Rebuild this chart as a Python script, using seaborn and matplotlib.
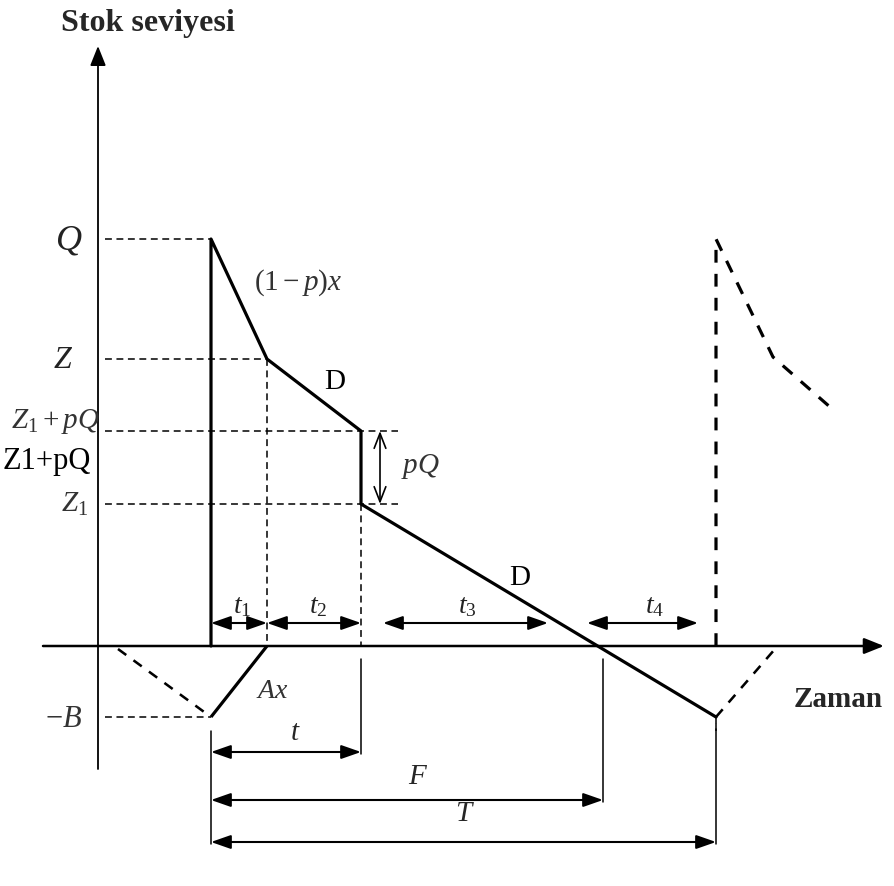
import matplotlib
matplotlib.use("Agg")
import matplotlib.pyplot as plt
import seaborn as sns
import pandas as pd

sns.set_theme(style="white")
plt.rcParams["font.family"] = ["Liberation Serif", "DejaVu Serif"]
plt.rcParams["mathtext.fontset"] = "custom"
plt.rcParams["mathtext.rm"] = "Liberation Serif"
plt.rcParams["mathtext.it"] = "Liberation Serif:italic"

# ---- data (time / stock level units) ----
t_points = [113, 169, 263, 505, 618]          # start, end t1, end t2 (=t), F, T
lev_Q, lev_Z, lev_Z1pQ, lev_Z1, lev_B = 407, 287, 215, 142, -71
profile_x = [113, 113, 169, 263, 263, 618]
profile_y = [0, lev_Q, lev_Z, lev_Z1pQ, lev_Z1, lev_B]
backorder_x = [113, 169]
backorder_y = [lev_B, 0]
next_x = [618, 618, 675, 732]
next_y = [0, lev_Q, 289, 239]
prev_x = [20, 113]
prev_y = [-3, lev_B]
next_back_x = [618, 677]
next_back_y = [lev_B, -3]
level_labels = ["$Q$", "$Z$", "$Z_{1}+pQ$", "$Z_{1}$", "$-B$"]
phase_labels = ["$t_{1}$", "$t_{2}$", "$t_{3}$", "$t_{4}$"]
phase_spans = [(113, 169), (169, 263), (285, 450), (489, 600)]

fig = plt.figure(figsize=(8.94, 8.87), dpi=100)
ax = fig.add_axes([0, 0, 1, 1])
ax.set_xlim(-98, 796)
ax.set_ylim(-240, 647)
ax.axis("off")

thick = 2.3
thin = 1.1
dash_thin = (0, (4.5, 3))
dash_thick = (0, (4, 3.5))

# axes with arrows
ax.annotate("", xy=(0, 600), xytext=(0, -123),
            arrowprops=dict(arrowstyle="-|>,head_length=1.0,head_width=0.4", lw=1.3, color="black", shrinkA=0, shrinkB=0))
ax.annotate("", xy=(786, 0), xytext=(-55, 0),
            arrowprops=dict(arrowstyle="-|>,head_length=1.0,head_width=0.4", lw=1.8, color="black", shrinkA=0, shrinkB=0))

# main inventory profile
df = pd.DataFrame({"x": profile_x, "y": profile_y})
sns.lineplot(data=df, x="x", y="y", sort=False, color="black", lw=thick, ax=ax, estimator=None)
ax.plot(backorder_x, backorder_y, color="black", lw=thick, solid_capstyle="butt")
ax.plot(next_x, next_y, color="black", lw=thick, ls=dash_thick)
ax.plot(prev_x, prev_y, color="black", lw=thick * 0.8, ls=dash_thick)
ax.plot(next_back_x, next_back_y, color="black", lw=thick * 0.8, ls=dash_thick)

# horizontal guide lines
ax.plot([7, 113], [lev_Q, lev_Q], color="black", lw=thin, ls=dash_thin)
ax.plot([7, 169], [lev_Z, lev_Z], color="black", lw=thin, ls=dash_thin)
ax.plot([7, 300], [lev_Z1pQ, lev_Z1pQ], color="black", lw=thin, ls=dash_thin)
ax.plot([7, 300], [lev_Z1, lev_Z1], color="black", lw=thin, ls=dash_thin)
ax.plot([7, 113], [lev_B, lev_B], color="black", lw=thin, ls=dash_thin)

# vertical guide lines
ax.plot([169, 169], [lev_Z, 0], color="black", lw=thin, ls=dash_thin)
ax.plot([263, 263], [lev_Z1, 0], color="black", lw=thin, ls=dash_thin)
ax.plot([263, 263], [-13, -108], color="black", lw=thin)
ax.plot([113, 113], [-85, -198], color="black", lw=thin)
ax.plot([505, 505], [-13, -156], color="black", lw=thin)
ax.plot([618, 618], [-78, -198], color="black", lw=thin)
ax.plot([618, 618], [-71, -85], color="black", lw=thin, ls=dash_thin)

def dim(x0, x1, y):
    ax.annotate("", xy=(x1, y), xytext=(x0, y),
                arrowprops=dict(arrowstyle="<|-|>,head_length=1.0,head_width=0.35", lw=1.5,
                                color="black", shrinkA=0, shrinkB=0))

label_x = [144, 220, 369, 557]
for (a, b), lab, lx in zip(phase_spans, phase_labels, label_x):
    dim(a, b, 23)
    ax.text(lx, 40, lab, ha="center", va="center", fontsize=20, color="#222222")

dim(113, 263, -106)
ax.text(197, -86, "$t$", ha="center", va="center", fontsize=21)
dim(113, 505, -154)
ax.text(320, -130, "$F$", ha="center", va="center", fontsize=21)
dim(113, 618, -196)
ax.text(367, -167, "$T$", ha="center", va="center", fontsize=21)

# pQ open arrow
ax.annotate("", xy=(282, lev_Z1), xytext=(282, lev_Z1pQ),
            arrowprops=dict(arrowstyle="<->,head_length=0.9,head_width=0.35", lw=1.2,
                            color="black", shrinkA=0, shrinkB=0))
ax.text(322, 180, "$pQ$", ha="center", va="center", fontsize=21, color="#333333")

# level labels
ax.text(-29, lev_Q - 1, level_labels[0], ha="center", va="center", fontsize=26, color="#222222")
ax.text(-35, lev_Z - 1, level_labels[1], ha="center", va="center", fontsize=23, color="#222222")
ax.text(-43, 225, level_labels[2], ha="center", va="center", fontsize=21, color="#333333")
ax.text(-10, 143, level_labels[3], ha="right", va="center", fontsize=21, color="#333333")
ax.text(-16, lev_B - 2, level_labels[4], ha="right", va="center", fontsize=22, color="#333333")
ax.text(-51, 185, "Z1+pQ", ha="center", va="center", fontsize=22, color="black")

# slope labels
ax.text(200, 364, "$(1-p)x$", ha="center", va="center", fontsize=21, color="#333333")
ax.text(237, 265, "D", ha="center", va="center", fontsize=21, color="black")
ax.text(422, 69, "D", ha="center", va="center", fontsize=21, color="black")
ax.text(174, -45, "$Ax$", ha="center", va="center", fontsize=20, color="#333333")

# axis titles
ax.text(50, 623, "Stok seviyesi", ha="center", va="center", fontsize=23, fontweight="bold")
ax.text(740, -53, "Zaman", ha="center", va="center", fontsize=21, fontweight="bold")

fig.savefig("out.png", dpi=100, facecolor="white")
